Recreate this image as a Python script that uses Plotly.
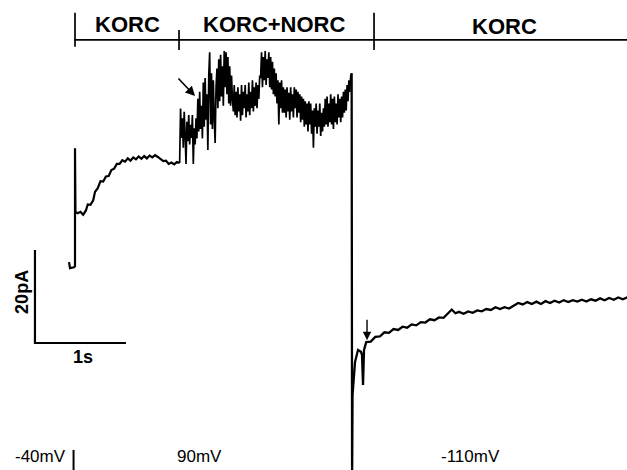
import plotly.graph_objects as go

# ---- data (time in s, current in pA) read from the recording ----
# holding at -40 mV, then step to +90 mV (KORC)
t_korc1 = [-0.066, -0.055, -0.011, 0.0, 0.0, 0.005, 0.03, 0.06, 0.09, 0.12, 0.14, 0.17, 0.20,
           0.22, 0.25, 0.28, 0.31, 0.34, 0.37, 0.40, 0.43, 0.46, 0.49, 0.52, 0.55, 0.58,
           0.61, 0.64, 0.67, 0.70, 0.73, 0.76, 0.79, 0.82, 0.85, 0.88, 0.91, 0.94, 0.97,
           1.00, 1.03, 1.06, 1.09, 1.12, 1.15]
i_korc1 = [17.4, 16.1, 16.3, 16.5, 41.9, 28.2, 27.9, 28.2, 27.6, 28.5, 29.8, 29.7, 30.7,
           32.5, 33.3, 34.8, 34.7, 35.8, 35.9, 37.2, 37.5, 38.5, 38.5, 39.3, 39.0, 39.7,
           39.2, 39.9, 39.5, 40.1, 39.6, 40.2, 39.7, 40.3, 39.9, 40.4, 40.0, 39.6, 39.1,
           39.2, 38.5, 38.8, 38.4, 38.9, 38.7]

# KORC + NORC (noisy), sampled every 10 ms
t_norc = [1.15, 1.16, 1.17, 1.18, 1.19, 1.20, 1.21, 1.22, 1.23, 1.24, 1.25, 1.26, 1.27, 1.28, 1.29,
          1.30, 1.31, 1.32, 1.33, 1.34, 1.35, 1.36, 1.37, 1.38, 1.39,
          1.40, 1.41, 1.42, 1.43, 1.44, 1.45, 1.46, 1.47, 1.48, 1.49,
          1.50, 1.51, 1.52, 1.53, 1.54, 1.55, 1.56, 1.57, 1.58, 1.59,
          1.60, 1.61, 1.62, 1.63, 1.64, 1.65, 1.66, 1.67, 1.68, 1.69,
          1.70, 1.71, 1.72, 1.73, 1.74, 1.75, 1.76, 1.77, 1.78, 1.79,
          1.80, 1.81, 1.82, 1.83, 1.84, 1.85, 1.86, 1.87, 1.88, 1.89,
          1.90, 1.91, 1.92, 1.93, 1.94, 1.95, 1.96, 1.97, 1.98, 1.99,
          2.00, 2.01, 2.02, 2.03, 2.04, 2.05, 2.06, 2.07, 2.08, 2.09,
          2.10, 2.11, 2.12, 2.13, 2.14, 2.15, 2.16, 2.17, 2.18, 2.19,
          2.20, 2.21, 2.22, 2.23, 2.24, 2.25, 2.26, 2.27, 2.28, 2.29,
          2.30, 2.31, 2.32, 2.33, 2.34, 2.35, 2.36, 2.37, 2.38, 2.39,
          2.40, 2.41, 2.42, 2.43, 2.44, 2.45, 2.46, 2.47, 2.48, 2.49,
          2.50, 2.51, 2.52, 2.53, 2.54, 2.55, 2.56, 2.57, 2.58, 2.59,
          2.60, 2.61, 2.62, 2.63, 2.64, 2.65, 2.66, 2.67, 2.68, 2.69,
          2.70, 2.71, 2.72, 2.73, 2.74, 2.75, 2.76, 2.77, 2.78, 2.79,
          2.80, 2.81, 2.82, 2.83, 2.84, 2.85, 2.86, 2.87, 2.88, 2.89,
          2.90, 2.91, 2.92, 2.93, 2.94, 2.95, 2.96, 2.97, 2.98, 2.99,
          3.00, 3.01, 3.02, 3.03, 3.04]
i_norc = [38.7, 50.4, 44.1, 48.3, 42.0, 49.7, 44.8, 38.5, 47.6, 43.4, 49.0, 42.7, 46.9, 44.1, 49.0,
          38.5, 46.2, 42.7, 48.3, 44.0, 52.5, 45.5, 54.0, 46.0, 51.0,
          44.0, 56.0, 46.5, 57.0, 48.0, 53.5, 41.5, 57.5, 62.5, 47.0,
          58.0, 46.0, 56.5, 48.5, 43.0, 55.0, 59.0, 50.5, 61.0, 52.0,
          62.0, 53.0, 59.5, 51.0, 62.8, 55.0, 62.5, 53.5, 61.5, 51.5,
          59.5, 51.0, 57.5, 52.5, 49.8, 55.5, 49.0, 54.0, 48.5, 55.0,
          49.8, 53.5, 47.8, 55.5, 49.0, 54.0, 50.5, 55.5, 48.5, 53.5,
          49.8, 56.0, 49.0, 54.0, 50.5, 56.5, 49.8, 55.0, 51.0, 56.0,
          50.5, 55.5, 52.5, 57.5, 57.0, 62.5, 55.0, 61.5, 56.5, 62.8,
          55.5, 61.0, 57.0, 62.5, 55.0, 61.5, 54.5, 60.5, 53.5, 59.0,
          53.0, 58.0, 51.5, 56.5, 47.0, 56.0, 50.5, 56.5, 49.5, 55.0,
          49.5, 54.5, 48.5, 55.0, 49.8, 53.8, 48.0, 55.0, 49.8, 53.5,
          48.5, 55.0, 50.5, 54.5, 48.5, 54.0, 49.5, 53.5, 47.5, 53.0,
          48.0, 52.5, 46.5, 52.0, 47.0, 51.5, 45.5, 52.0, 47.0, 51.5,
          45.0, 50.0, 42.0, 50.5, 46.5, 51.5, 45.0, 50.0, 46.5, 51.5,
          44.5, 49.5, 45.5, 50.5, 46.5, 52.5, 47.0, 53.0, 46.5, 51.5,
          47.5, 53.5, 47.0, 52.5, 46.0, 53.0, 47.5, 51.5, 47.0, 53.5,
          48.5, 52.5, 47.5, 53.0, 48.5, 54.0, 49.5, 54.5, 50.0, 55.5,
          52.0, 56.5, 54.0, 57.5, 58.0]

# step to -110 mV (KORC)
t_korc2 = [3.04, 3.045, 3.05, 3.077, 3.11, 3.143, 3.154, 3.165, 3.176, 3.20, 3.25, 3.30, 3.35,
           3.40, 3.45, 3.50, 3.55, 3.60, 3.65, 3.70, 3.75, 3.80, 3.85, 3.90, 3.95, 4.00,
           4.05, 4.10, 4.14, 4.18, 4.22, 4.27, 4.32, 4.37, 4.42, 4.47, 4.52, 4.57, 4.62,
           4.67, 4.72, 4.77, 4.82, 4.87, 4.92, 4.97, 5.02, 5.07, 5.12, 5.17, 5.22, 5.27,
           5.32, 5.37, 5.42, 5.47, 5.52, 5.57, 5.62, 5.67, 5.72, 5.77, 5.82, 5.87, 5.92,
           5.97, 6.02, 6.07]
i_korc2 = [58.0, -30.0, -11.2, -4.1, -1.5, -1.9, -2.6, -9.0, -1.5, 0.2, 0.3, 1.3, 1.4,
           2.3, 2.2, 3.0, 2.8, 3.5, 3.3, 4.0, 3.8, 4.5, 4.4, 5.1, 4.9, 5.5,
           5.4, 6.4, 7.2, 6.4, 6.7, 6.3, 6.8, 6.5, 7.0, 6.8, 7.3, 7.1, 7.7,
           7.3, 7.7, 7.4, 8.0, 8.6, 8.3, 8.8, 8.4, 8.9, 8.4, 9.0, 8.6, 9.1,
           8.7, 9.2, 8.8, 9.2, 8.9, 9.3, 8.9, 9.4, 9.1, 9.6, 9.2, 9.7, 9.3,
           9.8, 9.4, 9.8]

# solution periods (s) and labels
period_edges = [0.0, 1.143, 3.286]
period_end = 6.07
period_labels = ["KORC", "KORC+NORC", "KORC"]
period_label_t = [0.582, 2.187, 4.725]

# holding-potential labels
volt_labels = ["-40mV", "90mV", "-110mV"]
volt_label_t = [-0.374, 1.363, 4.341]

# scale bar
bar_t0, bar_i0 = -0.44, 0.0
bar_dt, bar_di = 1.0, 20.0

FONT = "Liberation Sans"
fig = go.Figure()
for tt, ii, w in [(t_korc1, i_korc1, 2.2), (t_norc, i_norc, 1.7), (t_korc2, i_korc2, 2.3)]:
    fig.add_trace(go.Scatter(x=tt, y=ii, mode="lines",
                             line=dict(color="black", width=w),
                             hoverinfo="skip", showlegend=False))

# scale bar
fig.add_trace(go.Scatter(x=[bar_t0, bar_t0, bar_t0 + bar_dt],
                         y=[bar_i0 + bar_di, bar_i0, bar_i0],
                         mode="lines", line=dict(color="black", width=2.2),
                         hoverinfo="skip", showlegend=False))

shapes = []
# top bracket
y_br = 65.2
shapes.append(dict(type="line", x0=-0.01, x1=period_end, y0=y_br, y1=y_br,
                   line=dict(color="black", width=1.7)))
tick_ranges = [(63.7, 71.0), (63.0, 67.3), (63.0, 71.0)]
for te, (a, b) in zip(period_edges, tick_ranges):
    shapes.append(dict(type="line", x0=te, x1=te, y0=a, y1=b,
                       line=dict(color="black", width=1.7)))
# -40mV marker bar at bottom
shapes.append(dict(type="line", x0=-0.016, x1=-0.016, y0=-23.0, y1=-28.0,
                   line=dict(color="black", width=2)))

ann = []
for lab, tt, yy in zip(period_labels, period_label_t, [68.6, 68.6, 68.0]):
    ann.append(dict(x=tt, y=yy, text=lab, showarrow=False,
                    font=dict(family=FONT, size=22, color="black", weight=600),
                    xanchor="center", yanchor="middle"))
for lab, tt in zip(volt_labels, volt_label_t):
    ann.append(dict(x=tt, y=-24.5, text=lab, showarrow=False,
                    font=dict(family=FONT, size=17, color="black"),
                    xanchor="center", yanchor="middle"))
ann.append(dict(x=-0.582, y=11.0, text="20pA", textangle=-90, showarrow=False,
                font=dict(family=FONT, size=18, color="black", weight=600),
                xanchor="center", yanchor="middle"))
ann.append(dict(x=0.088, y=-3.0, text="1s", showarrow=False,
                font=dict(family=FONT, size=18, color="black", weight=600),
                xanchor="center", yanchor="middle"))
# arrows
ann.append(dict(x=1.319, y=53.1, ax=-18, ay=-19, text="", showarrow=True,
                arrowhead=2, arrowsize=1.2, arrowwidth=1.6, arrowcolor="black"))
ann.append(dict(x=3.209, y=0.6, ax=0, ay=-22, text="", showarrow=True,
                arrowhead=2, arrowsize=1.2, arrowwidth=1.4, arrowcolor="black"))

fig.update_layout(
    width=627, height=470,
    margin=dict(l=0, r=0, t=0, b=0),
    paper_bgcolor="white", plot_bgcolor="white",
    xaxis=dict(range=[-0.8242, 6.0659], visible=False, fixedrange=True),
    yaxis=dict(range=[-27.31, 73.76], visible=False, fixedrange=True),
    shapes=shapes, annotations=ann, showlegend=False,
)
fig.write_html("out.html")
